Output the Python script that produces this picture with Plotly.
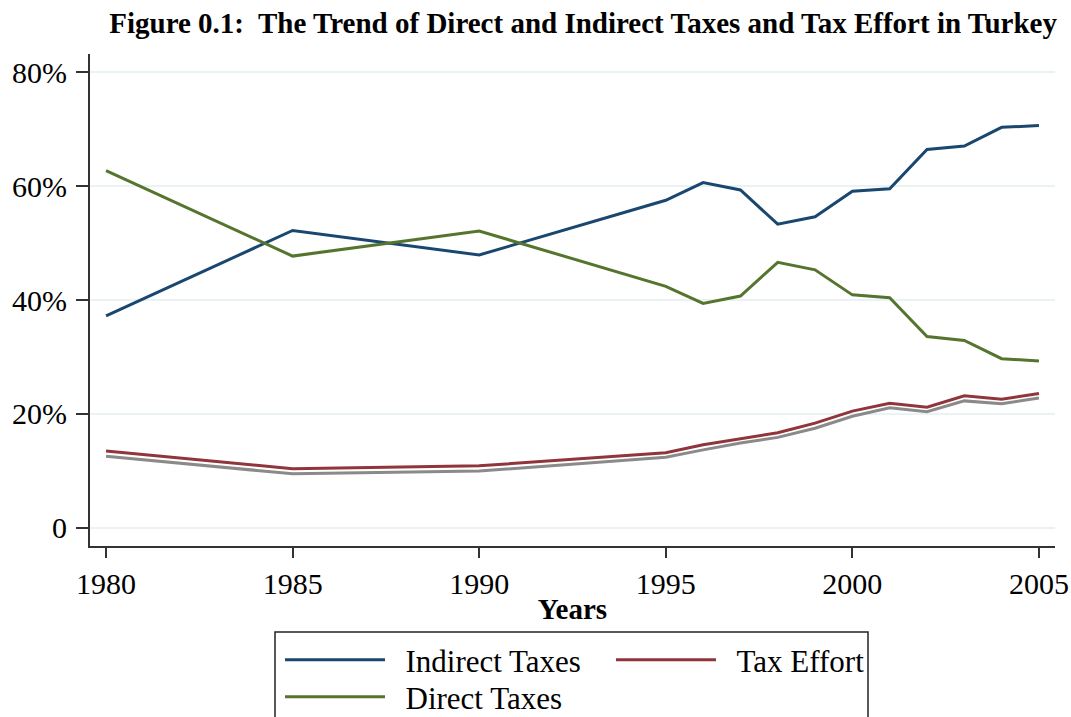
import plotly.graph_objects as go

years = [1980, 1985, 1990, 1995, 1996, 1997, 1998, 1999, 2000, 2001, 2002, 2003, 2004, 2005]
indirect_taxes = [37.2, 52.2, 47.9, 57.5, 60.6, 59.3, 53.3, 54.6, 59.1, 59.5, 66.4, 67.0, 70.3, 70.6]
direct_taxes = [62.7, 47.7, 52.1, 42.4, 39.4, 40.7, 46.6, 45.3, 40.9, 40.4, 33.6, 32.9, 29.7, 29.3]
tax_effort = [13.5, 10.4, 10.9, 13.2, 14.6, 15.7, 16.7, 18.4, 20.5, 21.9, 21.2, 23.2, 22.6, 23.6]
tax_effort_shadow = [12.6, 9.5, 10.0, 12.4, 13.7, 14.9, 15.9, 17.5, 19.6, 21.1, 20.4, 22.3, 21.8, 22.8]

y_ticks = [0, 20, 40, 60, 80]
y_ticktext = ["0", "20%", "40%", "60%", "80%"]
x_ticks = [1980, 1985, 1990, 1995, 2000, 2005]

FONT = "Liberation Serif, Times New Roman, serif"
W, H = 1071, 717
# plot area in screen pixels
PL, PR, PT, PB = 90, 1055, 54, 546
ML, MR, MT, MB = PL, W - PR, PT, H - PB
PW, PH = W - ML - MR, H - MT - MB


def px_x(x):
    return (x - ML) / PW


def px_y(y):
    return (H - MB - y) / PH


NB = "\u00a0\u00a0"

fig = go.Figure()
fig.add_trace(go.Scatter(x=years, y=tax_effort_shadow, mode="lines",
                         line=dict(color="#8a8a8a", width=3), showlegend=False, hoverinfo="skip"))
fig.add_trace(go.Scatter(x=years, y=indirect_taxes, mode="lines", name=NB + "Indirect Taxes",
                         line=dict(color="#1a476f", width=3), legend="legend"))
fig.add_trace(go.Scatter(x=years, y=tax_effort, mode="lines", name=NB + "Tax Effort",
                         line=dict(color="#90353b", width=3), legend="legend2"))
fig.add_trace(go.Scatter(x=years, y=direct_taxes, mode="lines", name=NB + "Direct Taxes",
                         line=dict(color="#55752f", width=3), legend="legend3"))

leg_common = dict(orientation="v", xanchor="left", yanchor="middle", bgcolor="rgba(0,0,0,0)",
                  borderwidth=0, font=dict(family=FONT, size=31, color="black"), itemwidth=100)

fig.update_layout(
    width=W, height=H,
    margin=dict(l=ML, r=MR, t=MT, b=MB, autoexpand=False),
    paper_bgcolor="white", plot_bgcolor="white",
    font=dict(family=FONT, size=30, color="black"),
    title=dict(text="Figure 0.1:  The Trend of Direct and Indirect Taxes and Tax Effort in Turkey",
               xref="container", x=1057 / W, xanchor="right",
               yref="container", y=1 - 23 / H, yanchor="middle", automargin=False,
               font=dict(family=FONT, size=29, color="black", weight="bold")),
    xaxis=dict(range=[1979.57, 2005.43], tickvals=x_ticks, ticks="outside", ticklen=10,
               tickwidth=1.5, tickcolor="#333333", showline=True, linecolor="#333333", linewidth=2,
               showgrid=False, zeroline=False,
               title=dict(text="Years", standoff=0,
                          font=dict(family=FONT, size=29, weight="bold"))),
    yaxis=dict(range=[-3.16, 83.16], tickvals=y_ticks, ticktext=y_ticktext, ticks="outside",
               ticklen=12, tickwidth=1.5, tickcolor="#333333", showline=True, linecolor="#333333",
               linewidth=2, showgrid=True, gridcolor="#eaf2f3", gridwidth=2, zeroline=False,
               ticklabelstandoff=3),
    legend=dict(x=px_x(280), y=px_y(660), **leg_common),
    legend2=dict(x=px_x(611), y=px_y(660), **leg_common),
    legend3=dict(x=px_x(280), y=px_y(697), **leg_common),
    shapes=[dict(type="rect", xref="paper", yref="paper",
                 x0=px_x(275), x1=px_x(868), y0=px_y(760), y1=px_y(632),
                 line=dict(color="#222222", width=1.5), fillcolor="rgba(0,0,0,0)", layer="above")],
)

fig.write_html("out.html", config={"displayModeBar": False},
               post_script="document.body.style.margin='0';document.body.style.overflow='hidden';")
